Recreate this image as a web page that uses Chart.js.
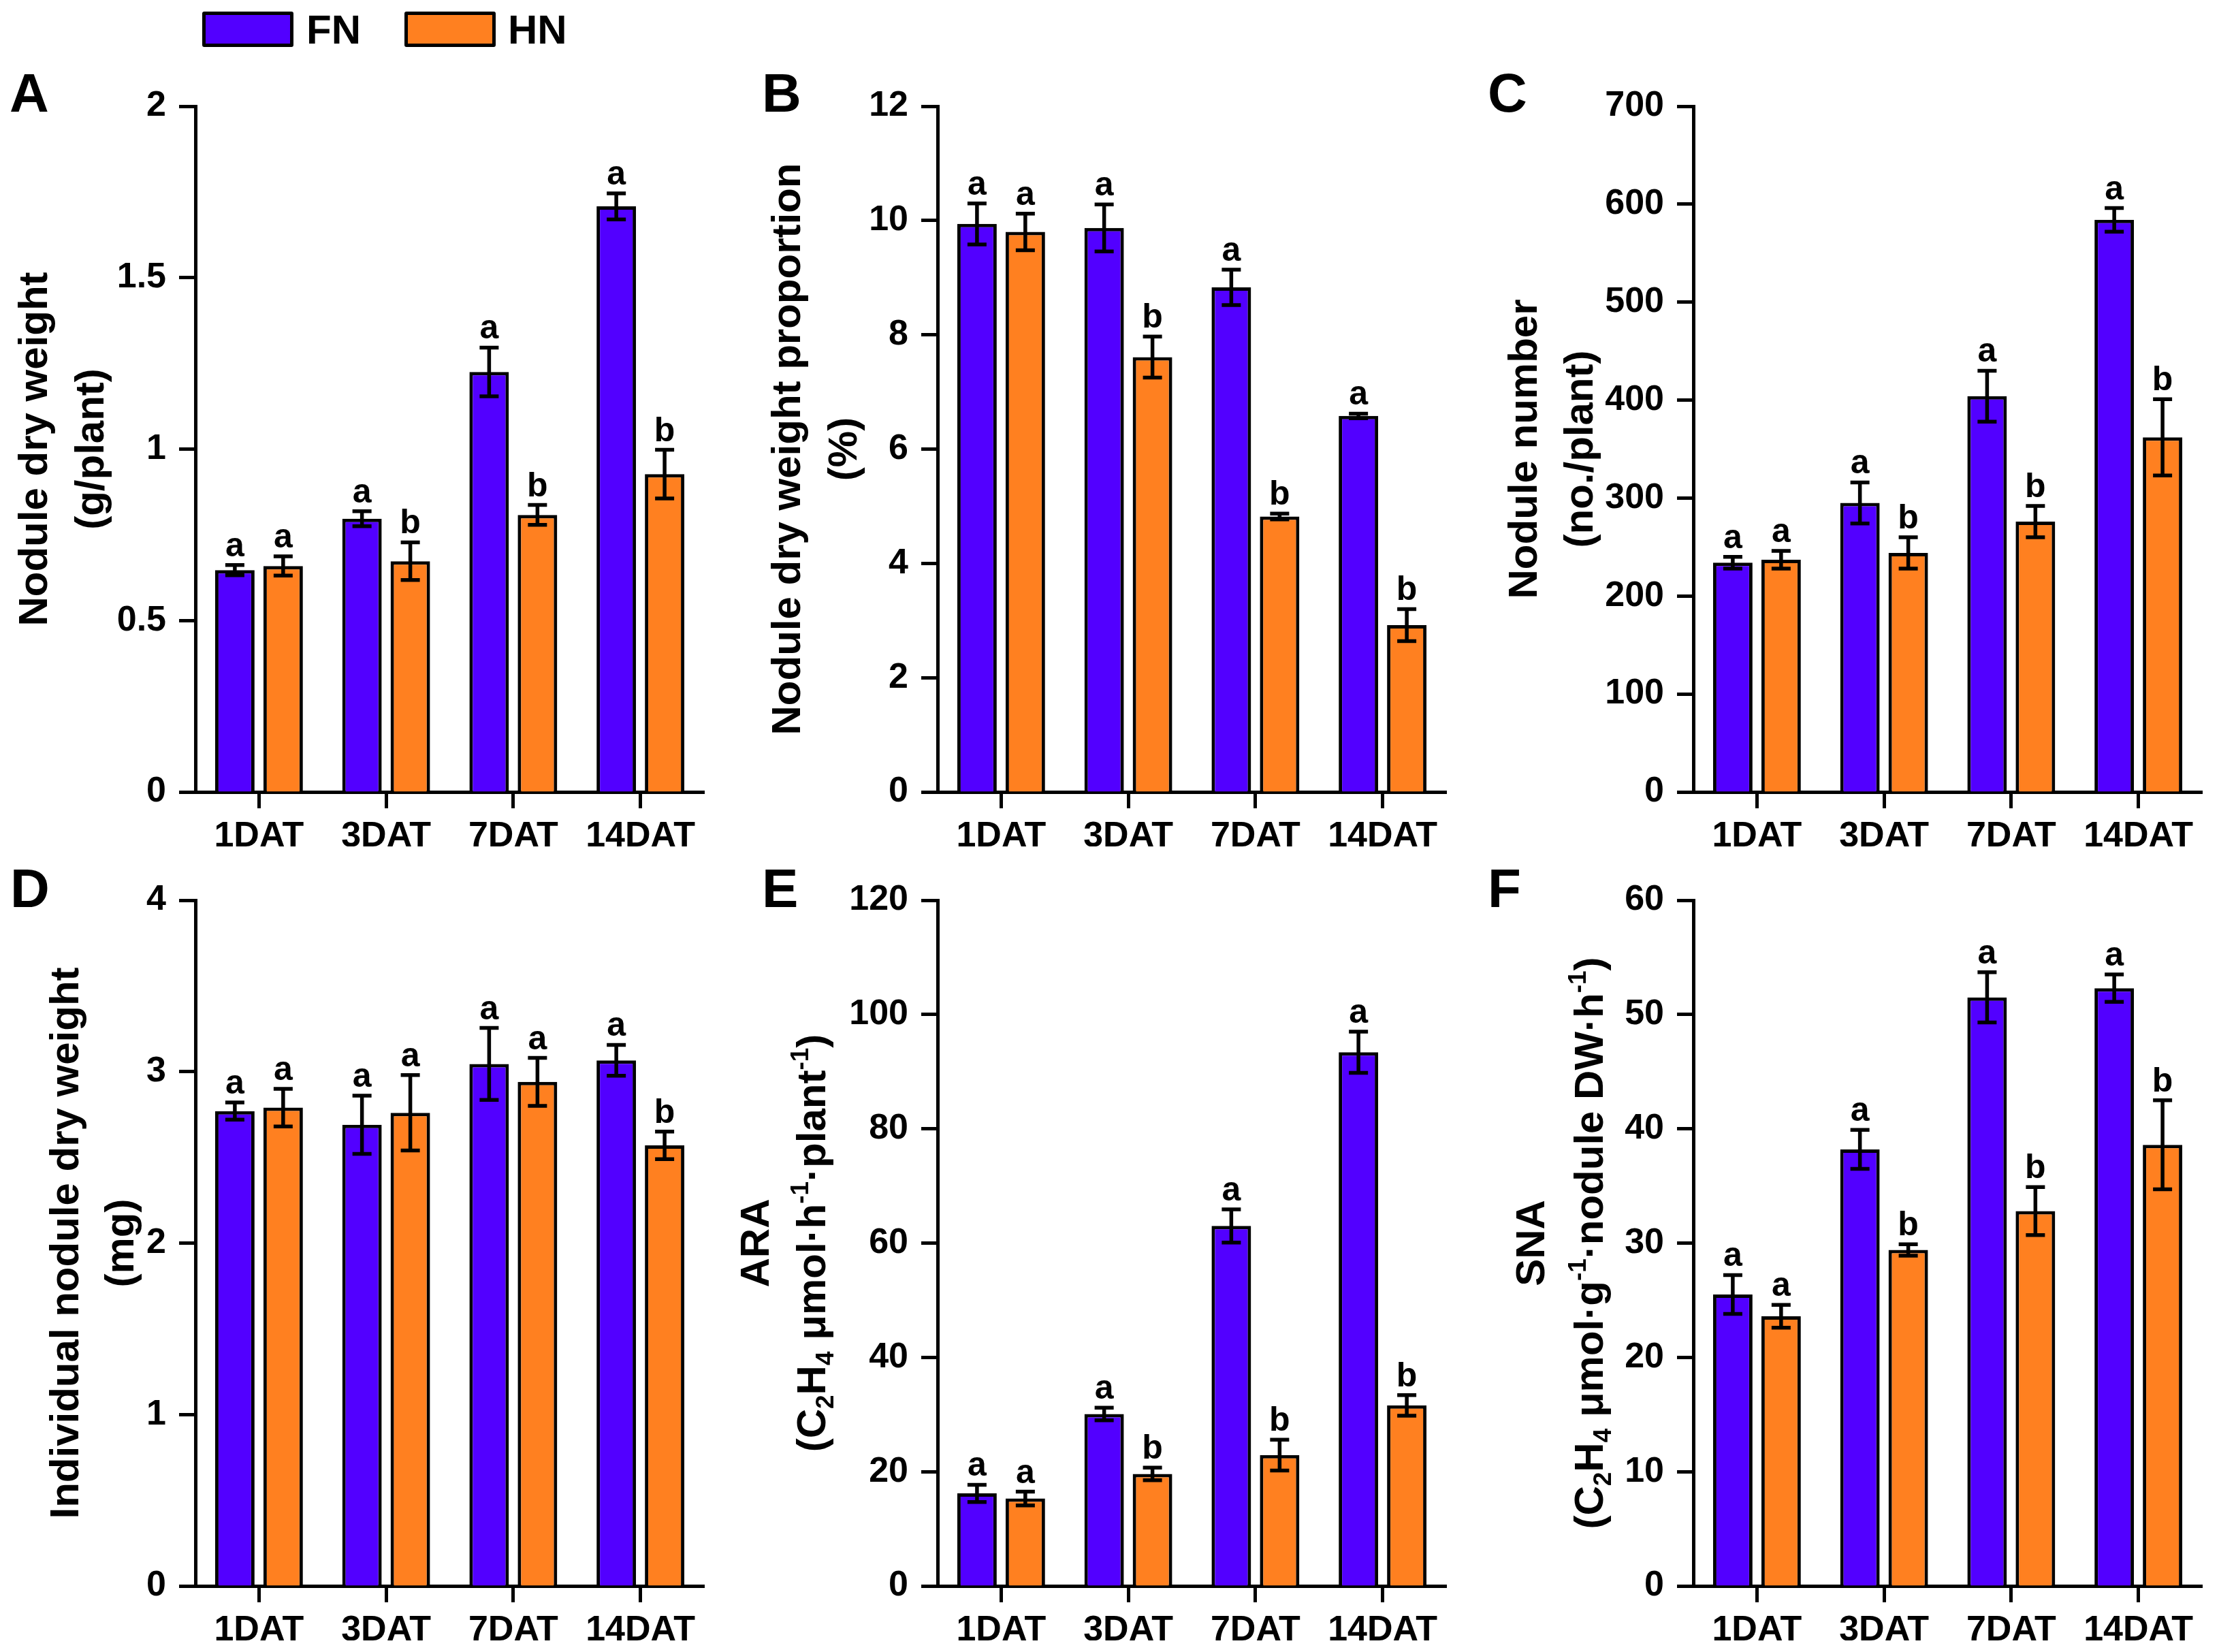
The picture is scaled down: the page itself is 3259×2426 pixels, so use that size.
<!DOCTYPE html>
<html>
<head>
<meta charset="utf-8">
<script src="https://cdn.jsdelivr.net/npm/chart.js@4.4.1/dist/chart.umd.min.js"></script>
<style>
  body { margin: 0; background: #fff; }
  #page { position: relative; width: 3259px; height: 2426px; overflow: hidden; font-family: "Liberation Sans", Arial, sans-serif; font-weight: bold; }
  #page canvas { position: absolute; }
  .legend-box { position: absolute; top: 17px; width: 124px; height: 42px; border: 5px solid #000; border-radius: 3px; }
  .legend-text { position: absolute; top: 14px; font-size: 60px; line-height: 60px; color: #000; }
</style>
</head>
<body>
<div id="page">
  <div class="legend-box" style="left:297px; background:#5200ff;"></div>
  <div class="legend-text" style="left:450px;">FN</div>
  <div class="legend-box" style="left:594px; background:#ff8020;"></div>
  <div class="legend-text" style="left:746px;">HN</div>
</div>
<script>
var categories = ['1DAT', '3DAT', '7DAT', '14DAT'];
var seriesNames = ['FN', 'HN'];
var seriesColors = ['#5200ff', '#ff8020'];

// A: nodule dry weight (g/plant)
var dryWeightFN = [0.647, 0.797, 1.225, 1.708];
var dryWeightFNErr = [0.015, 0.022, 0.071, 0.038];
var dryWeightHN = [0.659, 0.673, 0.808, 0.927];
var dryWeightHNErr = [0.028, 0.055, 0.029, 0.071];
var dryWeightLettersFN = ['a', 'a', 'a', 'a'];
var dryWeightLettersHN = ['a', 'b', 'b', 'b'];

// B: nodule dry weight proportion (%)
var proportionFN = [9.94, 9.87, 8.83, 6.58];
var proportionFNErr = [0.36, 0.41, 0.31, 0.04];
var proportionHN = [9.80, 7.61, 4.82, 2.92];
var proportionHNErr = [0.32, 0.36, 0.05, 0.28];
var proportionLettersFN = ['a', 'a', 'a', 'a'];
var proportionLettersHN = ['a', 'b', 'b', 'b'];

// C: nodule number (no./plant)
var numberFN = [234, 295, 404, 584];
var numberFNErr = [6, 21, 26, 12];
var numberHN = [237, 244, 276, 362];
var numberHNErr = [9, 16, 16, 39];
var numberLettersFN = ['a', 'a', 'a', 'a'];
var numberLettersHN = ['a', 'b', 'b', 'b'];

// D: individual nodule dry weight (mg)
var individualFN = [2.77, 2.69, 3.045, 3.066];
var individualFNErr = [0.05, 0.17, 0.21, 0.09];
var individualHN = [2.79, 2.76, 2.94, 2.57];
var individualHNErr = [0.11, 0.22, 0.14, 0.08];
var individualLettersFN = ['a', 'a', 'a', 'a'];
var individualLettersHN = ['a', 'a', 'a', 'b'];

// E: ARA
var araFN = [16.2, 30.1, 63.0, 93.4];
var araFNErr = [1.5, 1.1, 2.9, 3.6];
var araHN = [15.3, 19.6, 22.9, 31.6];
var araHNErr = [1.2, 1.1, 2.7, 1.8];
var araLettersFN = ['a', 'a', 'a', 'a'];
var araLettersHN = ['a', 'b', 'b', 'b'];

// F: SNA
var snaFN = [25.5, 38.2, 51.5, 52.3];
var snaFNErr = [1.7, 1.7, 2.2, 1.2];
var snaHN = [23.6, 29.4, 32.8, 38.6];
var snaHNErr = [1.0, 0.5, 2.1, 3.9];
var snaLettersFN = ['a', 'a', 'a', 'a'];
var snaLettersHN = ['a', 'b', 'b', 'b'];

var FONT = '"Liberation Sans", Arial, sans-serif';

// page geometry
var colLeft = [0, 1086, 2172];
var colWidth = [1086, 1086, 1087];
var rowTop = [0, 1265];
var rowHeight = [1265, 1161];
var plotTop = [156, 1322];
var plotBottom = [1163, 2329];
var letterBaseline = [164, 1332];
var plotWidth = 747;
var yAxisWidth = 200;
var xAxisHeight = 80;

var panels = [
    { id: 'A', col: 0, row: 0, axisX: 287, letterX: 14, max: 2, step: 0.5,
      fn: dryWeightFN, hn: dryWeightHN, err: [dryWeightFNErr, dryWeightHNErr], letters: [dryWeightLettersFN, dryWeightLettersHN],
      title: ['Nodule dry weight', '(g/plant)'], titleOffsets: [236, 153] },
    { id: 'B', col: 1, row: 0, axisX: 1377, letterX: 1119, max: 12, step: 2,
      fn: proportionFN, hn: proportionHN, err: [proportionFNErr, proportionHNErr], letters: [proportionLettersFN, proportionLettersHN],
      title: ['Nodule dry weight proportion', '(%)'], titleOffsets: [220, 137] },
    { id: 'C', col: 2, row: 0, axisX: 2487, letterX: 2185, max: 700, step: 100,
      fn: numberFN, hn: numberHN, err: [numberFNErr, numberHNErr], letters: [numberLettersFN, numberLettersHN],
      title: ['Nodule number', '(no./plant)'], titleOffsets: [248, 166] },
    { id: 'D', col: 0, row: 1, axisX: 287, letterX: 15, max: 4, step: 1,
      fn: individualFN, hn: individualHN, err: [individualFNErr, individualHNErr], letters: [individualLettersFN, individualLettersHN],
      title: ['Individual nodule dry weight', '(mg)'], titleOffsets: [190, 109] },
    { id: 'E', col: 1, row: 1, axisX: 1377, letterX: 1119, max: 120, step: 20,
      fn: araFN, hn: araHN, err: [araFNErr, araHNErr], letters: [araLettersFN, araLettersHN],
      title: ['ARA', [['(C'], ['2', 'sub'], ['H'], ['4', 'sub'], [' \u03bcmol\u00b7h'], ['-1', 'sup'], ['\u00b7plant'], ['-1', 'sup'], [')']]],
      titleOffsets: [266, 183] },
    { id: 'F', col: 2, row: 1, axisX: 2487, letterX: 2185, max: 60, step: 10,
      fn: snaFN, hn: snaHN, err: [snaFNErr, snaHNErr], letters: [snaLettersFN, snaLettersHN],
      title: ['SNA', [['(C'], ['2', 'sub'], ['H'], ['4', 'sub'], [' \u03bcmol\u00b7g'], ['-1', 'sup'], ['\u00b7nodule DW\u00b7h'], ['-1', 'sup'], [')']]],
      titleOffsets: [237, 151] }
];

function drawRotatedLine(ctx, line, cx, cy, size) {
    var parts = typeof line === 'string' ? [[line]] : line;
    var fonts = parts.map(function(p) {
        return 'bold ' + (p[1] ? Math.round(size * 0.62) : size) + 'px ' + FONT;
    });
    var widths = parts.map(function(p, k) {
        ctx.font = fonts[k];
        return ctx.measureText(p[0]).width;
    });
    var total = widths.reduce(function(a, b) { return a + b; }, 0);
    ctx.save();
    ctx.translate(cx, cy);
    ctx.rotate(-Math.PI / 2);
    ctx.textAlign = 'left';
    ctx.textBaseline = 'alphabetic';
    var x = -total / 2;
    parts.forEach(function(p, k) {
        var dy = 0.3 * size;
        if (p[1] === 'sup') dy -= 0.42 * size;
        if (p[1] === 'sub') dy += 0.2 * size;
        ctx.font = fonts[k];
        ctx.fillText(p[0], x, dy);
        x += widths[k];
    });
    ctx.restore();
}

var extrasPlugin = {
    id: 'extras',
    afterDatasetsDraw: function(chart, args, opts) {
        var ctx = chart.ctx;
        var yScale = chart.scales.y;
        ctx.save();
        ctx.strokeStyle = '#000';
        ctx.fillStyle = '#000';
        ctx.lineWidth = 5.5;
        ctx.font = 'bold 50px ' + FONT;
        ctx.textAlign = 'center';
        ctx.textBaseline = 'alphabetic';
        opts.err.forEach(function(errs, i) {
            var meta = chart.getDatasetMeta(i);
            meta.data.forEach(function(bar, j) {
                var v = chart.data.datasets[i].data[j];
                var top = yScale.getPixelForValue(v + errs[j]);
                var bottom = yScale.getPixelForValue(v - errs[j]);
                ctx.beginPath();
                ctx.moveTo(bar.x, bottom);
                ctx.lineTo(bar.x, top);
                ctx.moveTo(bar.x - 14, top);
                ctx.lineTo(bar.x + 14, top);
                ctx.moveTo(bar.x - 14, bottom);
                ctx.lineTo(bar.x + 14, bottom);
                ctx.stroke();
                ctx.fillText(opts.letters[i][j], bar.x, top - 13);
            });
        });
        ctx.restore();
    },
    afterDraw: function(chart, args, opts) {
        var ctx = chart.ctx;
        var area = chart.chartArea;
        var cy = (area.top + area.bottom) / 2;
        ctx.save();
        ctx.fillStyle = '#000';
        drawRotatedLine(ctx, opts.title[0], area.left - opts.titleOffsets[0], cy, 60);
        drawRotatedLine(ctx, opts.title[1], area.left - opts.titleOffsets[1], cy, 60);
        ctx.font = 'bold 80px ' + FONT;
        ctx.textAlign = 'left';
        ctx.textBaseline = 'alphabetic';
        ctx.fillText(opts.panelLetter, opts.letterX, opts.letterY);
        ctx.restore();
    }
};

var page = document.getElementById('page');

panels.forEach(function(p) {
    var canvas = document.createElement('canvas');
    var left = colLeft[p.col];
    var top = rowTop[p.row];
    canvas.width = colWidth[p.col];
    canvas.height = rowHeight[p.row];
    canvas.style.left = left + 'px';
    canvas.style.top = top + 'px';
    page.appendChild(canvas);

    var padLeft = p.axisX - left - yAxisWidth;
    var padRight = colWidth[p.col] - padLeft - yAxisWidth - plotWidth;
    var padTop = plotTop[p.row] - top;
    var padBottom = rowHeight[p.row] - (plotBottom[p.row] - top) - xAxisHeight;

    new Chart(canvas, {
        type: 'bar',
        data: {
            labels: categories,
            datasets: [
                { label: seriesNames[0], data: p.fn, backgroundColor: seriesColors[0], borderColor: '#000', borderWidth: 5 },
                { label: seriesNames[1], data: p.hn, backgroundColor: seriesColors[1], borderColor: '#000', borderWidth: 5 }
            ]
        },
        options: {
            responsive: false,
            animation: false,
            devicePixelRatio: 1,
            categoryPercentage: 0.76,
            barPercentage: 0.817,
            layout: { padding: { left: padLeft, right: padRight, top: padTop, bottom: padBottom } },
            scales: {
                x: {
                    afterFit: function(scale) { scale.height = xAxisHeight; },
                    grid: { display: true, drawOnChartArea: false, offset: false, tickLength: 24, tickWidth: 5, color: '#000' },
                    border: { display: true, color: '#000', width: 5 },
                    ticks: { color: '#000', padding: 10, font: { family: FONT, size: 52, weight: 'bold' } }
                },
                y: {
                    min: 0,
                    max: p.max,
                    afterFit: function(scale) { scale.width = yAxisWidth; },
                    grid: { display: true, drawOnChartArea: false, tickLength: 24, tickWidth: 5, color: '#000' },
                    border: { display: true, color: '#000', width: 5 },
                    ticks: {
                        stepSize: p.step,
                        color: '#000',
                        padding: 19,
                        font: { family: FONT, size: 52, weight: 'bold' },
                        callback: function(value) { return String(+value.toFixed(2)); }
                    }
                }
            },
            plugins: {
                legend: { display: false },
                tooltip: { enabled: false },
                extras: {
                    err: p.err,
                    letters: p.letters,
                    title: p.title,
                    titleOffsets: p.titleOffsets,
                    panelLetter: p.id,
                    letterX: p.letterX - left,
                    letterY: letterBaseline[p.row] - top
                }
            }
        },
        plugins: [extrasPlugin]
    });
});
</script>
</body>
</html>
